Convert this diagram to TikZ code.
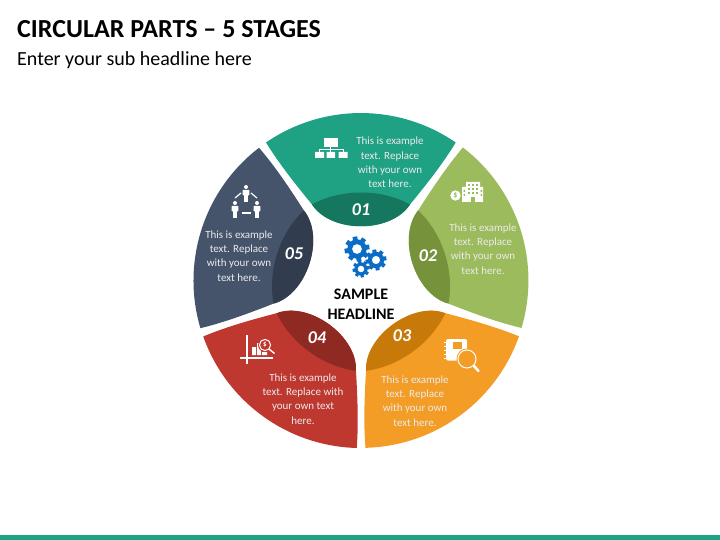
\documentclass[tikz,border=0pt]{standalone}
\usepackage{fontspec}
\setmainfont{Carlito}
\definecolor{tealMain}{HTML}{1FA184}
\definecolor{tealDark}{HTML}{16775F}
\definecolor{greenMain}{HTML}{9CBB5C}
\definecolor{greenDark}{HTML}{76923A}
\definecolor{orangeMain}{HTML}{F39C26}
\definecolor{orangeDark}{HTML}{C77A0A}
\definecolor{redMain}{HTML}{BE3830}
\definecolor{redDark}{HTML}{8F2A22}
\definecolor{navyMain}{HTML}{45546B}
\definecolor{navyDark}{HTML}{313D4F}
\definecolor{gearBlue}{HTML}{0A6CC4}
\newcommand{\gearicon}[3]{% x, y, radius
  \foreach \a in {0,45,...,315}{
    \fill[gearBlue, rotate around={\a+10:(#1,#2)}] (#1-0.19*#3,#2-#3) rectangle (#1+0.19*#3,#2-0.6*#3);
  }
  \fill[gearBlue, even odd rule] (#1,#2) circle[radius=0.78*#3] (#1,#2) circle[radius=0.4*#3];
}
\newcommand{\personicon}[2]{% x, y of the head
  \fill[white] (#1,#2) circle[radius=2];
  \fill[white, rounded corners=0.8] (#1-3.4,#2+2.8) rectangle (#1+3.4,#2+8.5);
  \fill[white] (#1-2.2,#2+8) rectangle (#1-0.2,#2+15.5);
  \fill[white] (#1+0.2,#2+8) rectangle (#1+2.2,#2+15.5);
}
\begin{document}
\begin{tikzpicture}[
    x=1pt, y=-1pt,
    bodytext/.style={align=center, text=white!92!black, font=\fontsize{11}{14.2}\selectfont, inner sep=0pt},
    numtext/.style={text=white, font=\fontsize{18}{18}\selectfont\bfseries\itshape, inner sep=0pt},
    headtext/.style={text=black, align=center, font=\fontsize{16}{20}\selectfont\bfseries, inner sep=0pt},
    iconline/.style={draw=white, line width=1.2pt},
  ]
    \useasboundingbox (0,0) rectangle (720,540);
    \fill[tealMain] (0,534.5) rectangle (720,540);

    \node[anchor=west, inner sep=0pt, font=\fontsize{26}{26}\selectfont\bfseries] (title) at (17,29) {CIRCULAR PARTS -- 5 STAGES};
    \node[anchor=west, inner sep=0pt, font=\fontsize{20}{20}\selectfont] (subtitle) at (17,60) {Enter your sub headline here};

    % petals, each turned around the middle of the ring
    \foreach \i/\main/\dark in {0/tealMain/tealDark, 1/greenMain/greenDark, 2/orangeMain/orangeDark,
                                3/redMain/redDark, 4/navyMain/navyDark}{
      \begin{scope}[shift={(361,280.5)}, rotate=-72*\i]
        \fill[\main] (-95,-138) arc[start angle=124.5, end angle=55.5, radius=167.5pt]
          .. controls (81.7,-116.5) and (65.3,-95.9) .. (49,-76)
          .. controls (30,-47) and (-30,-47) .. (-49,-76)
          .. controls (-65.3,-95.9) and (-81.7,-116.5) .. (-95,-138) -- cycle;
        \fill[\dark] (-49,-76) .. controls (-20,-92) and (20,-92) .. (49,-76)
          .. controls (30,-47) and (-30,-47) .. (-49,-76) -- cycle;
      \end{scope}
    }

    \node[numtext] (n1) at (361,209.5) {01};
    \node[numtext] (n2) at (428,256) {02};
    \node[numtext] (n3) at (402,336) {03};
    \node[numtext] (n4) at (317,338) {04};
    \node[numtext] (n5) at (294,254) {05};

    \node[bodytext] (t1) at (390,162.5) {This is example\\text. Replace\\with your own\\text here.};
    \node[bodytext] (t2) at (483,249) {This is example\\text. Replace\\with your own\\text here.};
    \node[bodytext] (t3) at (415,401) {This is example\\text. Replace\\with your own\\text here.};
    \node[bodytext] (t4) at (303,399) {This is example\\text. Replace with\\your own text\\here.};
    \node[bodytext] (t5) at (239,256) {This is example\\text. Replace\\with your own\\text here.};

    \node[headtext] (head) at (361,304.5) {SAMPLE\\HEADLINE};
    \gearicon{357}{249}{12.5}
    \gearicon{376}{260}{10.5}
    \gearicon{361}{269}{8.5}

    % 01 chart of boxes
    \fill[white] (323.5,138) rectangle (337.5,147);
    \fill[white] (315,152) rectangle (324,158) (326.5,152) rectangle (335,158) (338.5,152) rectangle (347.5,158);
    \draw[white, line width=0.6pt] (330.5,147) -- (330.5,152) (319.5,152) -- (319.5,149.5) -- (343,149.5) -- (343,152);

    % 02 building and coin
    \fill[white] (466,182) rectangle (480,188) (462,187) rectangle (483,202);
    \foreach \x in {468,472,476}{
      \foreach \y in {184,188,192}{
        \fill[greenMain] (\x,\y) rectangle (\x+1.8,\y+2);
      }
    }
    \fill[greenMain] (463.5,190) rectangle (465,192) (463.5,194) rectangle (465,196) (480.5,190) rectangle (482,192) (480.5,194) rectangle (482,196);
    \fill[greenMain] (471,197) rectangle (474.5,202);
    \fill[greenMain] (455.5,195.5) circle[radius=6.3];
    \fill[white] (455.5,195.5) circle[radius=5.2];
    \node[inner sep=0pt, text=greenMain, font=\fontsize{8}{8}\selectfont\bfseries] (coin) at (455.5,195.5) {\$};

    % 03 notebook and lens
    \fill[white, rounded corners=1.5] (446,339) rectangle (467,360.5);
    \fill[orangeMain] (453,342) rectangle (462,349);
    \foreach \y in {342,346,350,354,358}{
      \draw[white, line width=1pt] (443.5,\y) -- (448,\y);
    }
    \fill[orangeMain] (467,359) circle[radius=10.5];
    \draw[white, line width=1pt] (467,359) circle[radius=9];
    \draw[white, line width=2.6pt, line cap=round] (474,366) -- (478.5,371);

    % 04 axes, bars and lens
    \draw[white, line width=1.5pt] (247,335) -- (247,364) (240,358) -- (273,358);
    \fill[white] (252,347) rectangle (256,355) (257,343) rectangle (261,355) (262,352) rectangle (267,355);
    \fill[redMain] (265,345) circle[radius=7];
    \draw[white, line width=1pt] (265,345) circle[radius=5.6];
    \node[inner sep=0pt, text=white, font=\fontsize{7}{7}\selectfont\bfseries] (lens) at (265,345) {\$};
    \draw[white, line width=1.4pt] (269,349) -- (274.5,353.5);

    % 05 three people
    \personicon{246}{187}
    \personicon{235}{203}
    \personicon{257}{203}
    \draw[iconline] (235,198) -- (241,193);
    \draw[iconline] (251,193) -- (257,198);
    \draw[iconline] (242,213) -- (251,213);
  \end{tikzpicture}
\end{document}
